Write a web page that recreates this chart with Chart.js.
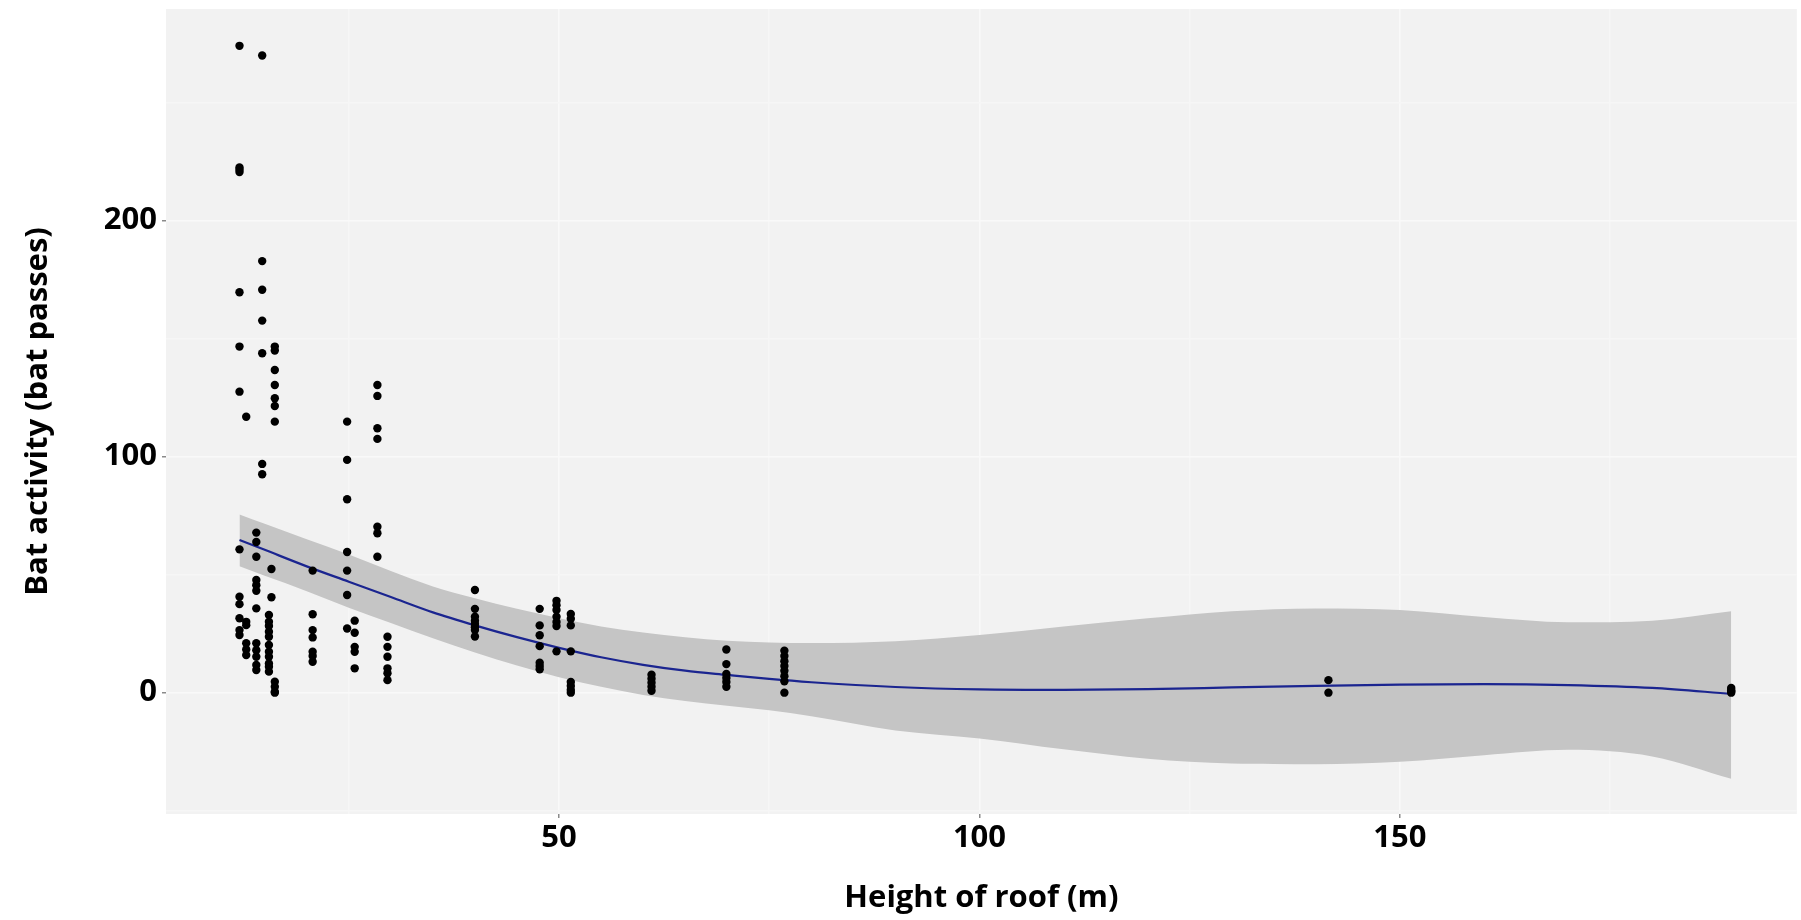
<!DOCTYPE html>
<html>
<head>
<meta charset="utf-8">
<title>Bat activity vs roof height</title>
<script src="https://cdn.jsdelivr.net/npm/chart.js@4.4.1/dist/chart.umd.min.js"></script>
<style>
  html, body { margin: 0; padding: 0; background: #fff; }
  #wrap { width: 1801px; height: 920px; position: relative; }
</style>
</head>
<body>
<div id="wrap"><canvas id="chart"></canvas></div>
<script>
// roof heights (m) that were surveyed, and the bat passes recorded at each
const roofHeights = [12, 12.8, 14, 14.7, 15.5, 15.8, 16.2, 20.7, 24.8, 25.7, 28.4, 29.6, 40, 47.7, 49.7, 51.4, 61, 69.9, 76.8, 141.5, 189.4];
const batPasses = [
  [274, 222.5, 221.5, 220.5, 169.6, 146.6, 127.5, 60.7, 40.6, 37.5, 31.5, 26.5, 24.4],
  [116.9, 30, 28.6, 20.9, 18.3, 15.9],
  [67.8, 63.8, 57.6, 47.7, 45.5, 43.2, 35.7, 20.9, 18, 15.2, 11.7, 9.6],
  [269.9, 182.8, 170.7, 157.6, 143.8, 96.9, 92.5],
  [32.9, 30, 28.2, 25.8, 23.7, 20.2, 17.3, 15.2, 12.4, 11, 8.9],
  [52.4, 40.4],
  [146.6, 144.9, 136.7, 130.3, 124.7, 121.4, 114.8, 4.6, 2.5, 0.4, 0],
  [51.7, 33.2, 26.5, 23.4, 17.3, 15.5, 13.1],
  [114.8, 98.6, 81.9, 59.6, 51.7, 41.4, 27.2],
  [30.5, 25.4, 19.4, 17.3, 10.3],
  [130.3, 125.7, 112, 107.5, 70.3, 67.5, 57.6],
  [23.7, 19.4, 15.2, 10.3, 8.2, 5.3],
  [43.5, 35.5, 32.2, 30.5, 29.1, 27.7, 26.5, 23.8],
  [35.5, 28.5, 24.3, 19.7, 12.7, 11.3, 9.9],
  [38.9, 37, 35, 32.2, 29.9, 28.2, 17.5],
  [33.3, 31.3, 28.5, 17.5, 4.5, 2.8, 1.1, 0],
  [7.6, 5.9, 4.2, 2.5, 0.8],
  [18.3, 12.1, 7.9, 6.2, 4.5, 2.5],
  [17.8, 15.5, 13.3, 11.3, 9.3, 7, 4.8, 0],
  [5.3, 0],
  [2, 1, 0.5, 0]
];

// loess smooth with its confidence band
const fitHeight = [12, 15, 20, 25, 30, 35, 40, 45, 50, 55, 60, 65, 70, 75, 80, 90, 100, 110, 120, 130, 140, 150, 160, 170, 180, 189.4];
const fitMean = [64.7, 60.5, 53.5, 47, 40.5, 34, 28.5, 23.5, 19, 15, 11.8, 9.3, 7.5, 5.8, 4.4, 2.4, 1.4, 1.2, 1.5, 2.2, 2.9, 3.4, 3.6, 3.2, 2.0, -0.5];
const fitUpper = [75.5, 71.5, 65, 58.5, 51.5, 45, 40, 35.5, 31.5, 28, 25.5, 23.5, 22, 21.3, 21, 21.8, 24.4, 28, 31.5, 34.5, 35.7, 35, 32, 29.8, 30.5, 34.5];
const fitLower = [53.5, 49.5, 43, 36, 29.5, 23, 17, 11.5, 6.5, 2.5, -1, -3.5, -5.5, -7.5, -10, -16, -19.4, -24, -28, -30, -30.3, -29.3, -26.5, -24.2, -27, -36.5];

const xTicks = [25, 50, 75, 100, 125, 150, 175];
const yTicks = [-50, 0, 50, 100, 150, 200, 250];

const points = [];
roofHeights.forEach((h, i) => {
  batPasses[i].forEach((v) => points.push({ x: h, y: v }));
});
const toXY = (ys) => fitHeight.map((x, i) => ({ x, y: ys[i] }));

// grey panel behind the plot area
const panelBg = {
  id: "panelBg",
  beforeDraw(chart) {
    const { ctx, chartArea: a } = chart;
    ctx.save();
    ctx.fillStyle = "#F2F2F2";
    ctx.fillRect(a.left, a.top, a.right - a.left, a.bottom - a.top);
    ctx.restore();
  },
};

Chart.defaults.font.family = "'Open Sans', sans-serif";
Chart.defaults.font.weight = "bold";
Chart.defaults.color = "#000";

const gridColor = (major) => (ctx) =>
  ctx.tick && ctx.tick.value % major === 0 ? "#F9F9F9" : "#F6F6F6";
const tickMarkColor = (major) => (ctx) =>
  ctx.tick && ctx.tick.value % major === 0 ? "#8a8a8a" : "rgba(0,0,0,0)";

new Chart(document.getElementById("chart"), {
  type: "scatter",
  data: {
    datasets: [
      {
        label: "observed",
        data: points,
        pointRadius: 4.2,
        pointHoverRadius: 4.2,
        backgroundColor: "#000",
        borderWidth: 0,
        order: 0,
      },
      {
        label: "smooth",
        type: "line",
        data: toXY(fitMean),
        borderColor: "#1B2590",
        borderWidth: 2.2,
        pointRadius: 0,
        cubicInterpolationMode: "monotone",
        fill: false,
        order: 1,
      },
      {
        label: "upper",
        type: "line",
        data: toXY(fitUpper),
        borderWidth: 0,
        pointRadius: 0,
        cubicInterpolationMode: "monotone",
        backgroundColor: "#C5C5C5",
        fill: "+1",
        order: 2,
      },
      {
        label: "lower",
        type: "line",
        data: toXY(fitLower),
        borderWidth: 0,
        pointRadius: 0,
        cubicInterpolationMode: "monotone",
        fill: false,
        order: 3,
      },
    ],
  },
  options: {
    responsive: true,
    maintainAspectRatio: false,
    animation: false,
    layout: { padding: { top: 9, right: 0, left: 0, bottom: 0 } },
    plugins: {
      legend: { display: false },
      tooltip: { enabled: false },
    },
    scales: {
      x: {
        type: "linear",
        min: 3.26,
        max: 197.2,
        afterBuildTicks: (s) => { s.ticks = xTicks.map((v) => ({ value: v })); },
        afterFit: (s) => { s.height = 106; s.paddingLeft = 0; s.paddingRight = 0; },
        border: { display: false },
        grid: { color: gridColor(50), lineWidth: 1.5, tickLength: 4, tickColor: tickMarkColor(50) },
        ticks: {
          padding: 2,
          font: { size: 31, weight: "bold" },
          callback: (v) => (v % 50 === 0 ? v : ""),
        },
        title: {
          display: true,
          text: "Height of roof (m)",
          font: { size: 31, weight: "bold" },
          padding: { top: 0, bottom: 3 },
        },
      },
      y: {
        type: "linear",
        min: -51.4,
        max: 289.6,
        afterBuildTicks: (s) => { s.ticks = yTicks.map((v) => ({ value: v })); },
        afterFit: (s) => { s.width = 166; s.paddingTop = 0; s.paddingBottom = 0; },
        border: { display: false },
        grid: { color: gridColor(100), lineWidth: 1.5, tickLength: 4, tickColor: tickMarkColor(100) },
        ticks: {
          padding: 5,
          font: { size: 31, weight: "bold" },
          callback: (v) => (v % 100 === 0 ? v : ""),
        },
        title: {
          display: true,
          text: "Bat activity (bat passes)",
          font: { size: 31, weight: "bold" },
          padding: { top: 20, bottom: 0 },
        },
      },
    },
  },
  plugins: [panelBg],
});
</script>
</body>
</html>
